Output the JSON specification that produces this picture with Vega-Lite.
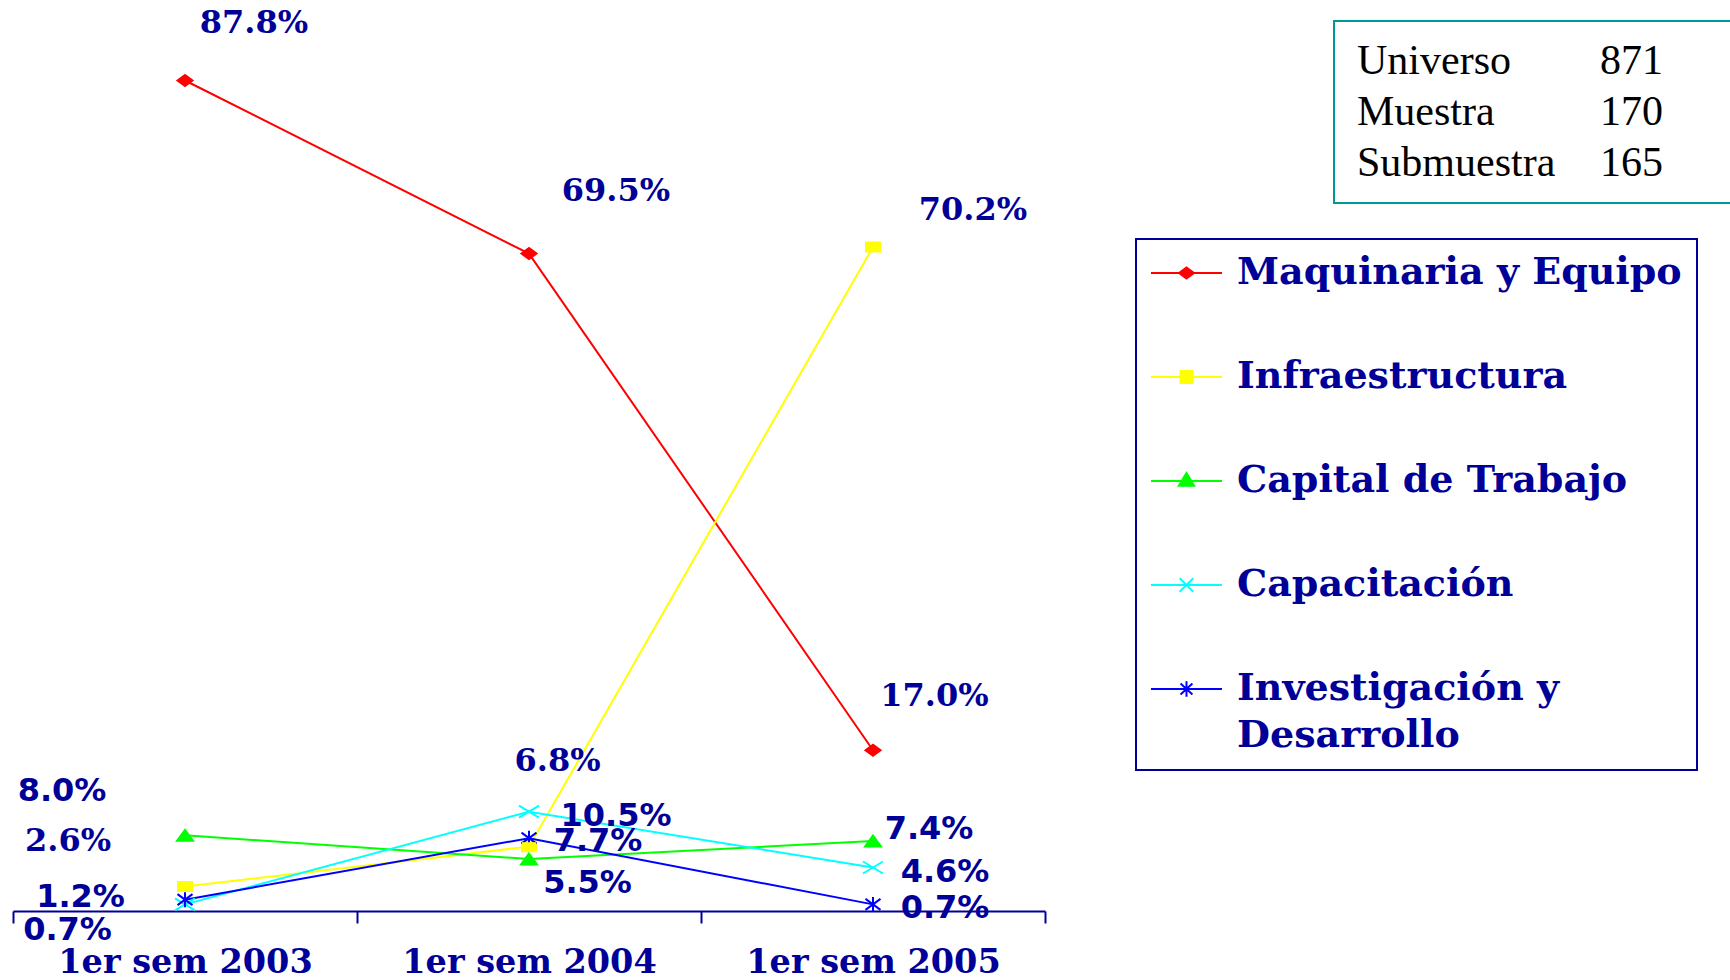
{
  "$schema": "https://vega.github.io/schema/vega-lite/v6.json",
  "width": 1032,
  "height": 911,
  "autosize": "none",
  "padding": {"left": 13, "top": 0, "right": 685, "bottom": 69},
  "background": "white",
  "config": {
    "view": {"stroke": null},
    "text": {"font": "DejaVu Sans", "fontSize": 32, "fontWeight": "bold", "color": "#000099", "align": "center", "baseline": "middle"},
    "axis": {"grid": false, "title": null},
    "legend": {"strokeWidth": 2}
  },
  "layer": [
    {
      "data": {
        "values": [
          {"periodo": "1er sem 2003", "serie": "Maquinaria y Equipo", "valor": 0.878},
          {"periodo": "1er sem 2003", "serie": "Infraestructura", "valor": 0.026},
          {"periodo": "1er sem 2003", "serie": "Capital de Trabajo", "valor": 0.080},
          {"periodo": "1er sem 2003", "serie": "Capacitación", "valor": 0.007},
          {"periodo": "1er sem 2003", "serie": "Investigación y Desarrollo", "valor": 0.012},
          {"periodo": "1er sem 2004", "serie": "Maquinaria y Equipo", "valor": 0.695},
          {"periodo": "1er sem 2004", "serie": "Infraestructura", "valor": 0.068},
          {"periodo": "1er sem 2004", "serie": "Capital de Trabajo", "valor": 0.055},
          {"periodo": "1er sem 2004", "serie": "Capacitación", "valor": 0.105},
          {"periodo": "1er sem 2004", "serie": "Investigación y Desarrollo", "valor": 0.077},
          {"periodo": "1er sem 2005", "serie": "Maquinaria y Equipo", "valor": 0.170},
          {"periodo": "1er sem 2005", "serie": "Infraestructura", "valor": 0.702},
          {"periodo": "1er sem 2005", "serie": "Capital de Trabajo", "valor": 0.074},
          {"periodo": "1er sem 2005", "serie": "Capacitación", "valor": 0.046},
          {"periodo": "1er sem 2005", "serie": "Investigación y Desarrollo", "valor": 0.007}
        ]
      },
      "encoding": {
        "x": {
          "field": "periodo", "type": "ordinal",
          "scale": {"type": "band", "paddingInner": 0, "paddingOuter": 0},
          "axis": {
            "domainColor": "#000099", "domainWidth": 2,
            "tickColor": "#000099", "tickWidth": 2, "tickSize": 12,
            "tickBand": "extent", "tickExtra": true,
            "labelFont": "DejaVu Serif", "labelFontWeight": "bold", "labelFontSize": 33.5,
            "labelColor": "#000099", "labelPadding": 23, "labelAngle": 0, "labelLimit": 500
          }
        },
        "y": {"field": "valor", "type": "quantitative", "scale": {"domain": [0, 0.9631], "nice": false}, "axis": null}
      },
      "layer": [
        {
          "mark": {"type": "line", "strokeWidth": 2},
          "encoding": {
            "color": {
              "field": "serie", "type": "nominal",
              "scale": {
                "domain": ["Maquinaria y Equipo", "Infraestructura", "Capital de Trabajo", "Capacitación", "Investigación y Desarrollo"],
                "range": ["#FF0000", "#FFFF00", "#00FF00", "#00FFFF", "#0000FF"]
              },
              "legend": {
                "orient": "none", "legendX": 1123, "legendY": 239,
                "title": null, "direction": "vertical",
                "padding": 15, "strokeColor": "#000099", "fillColor": "white",
                "symbolSize": 289, "symbolStrokeWidth": 2,
                "labelFont": "DejaVu Serif", "labelFontWeight": "bold", "labelFontSize": 38,
                "labelColor": "#000099", "labelOffset": 48, "labelLimit": 700,
                "rowPadding": 66,
                "labelExpr": "length(datum.label) > 20 ? [slice(datum.label, 0, lastindexof(datum.label, ' ')), slice(datum.label, lastindexof(datum.label, ' ') + 1)] : datum.label",
                "encode": {
                  "symbols": {
                    "update": {
                      "shape": {"signal": "['M-2.24,0H6.12M1.06,0L1.94,-0.65L2.82,0L1.94,0.65Z','M-2.24,0H6.12M1.24,-0.7H2.64V0.7H1.24Z','M-2.24,0H6.12M1.94,-0.95L2.84,0.55H1.04Z','M-2.24,0H6.12M1.14,-0.8L2.74,0.8M1.14,0.8L2.74,-0.8','M-2.24,0H6.12M1.24,-0.65L2.64,0.65M1.24,0.65L2.64,-0.65M1.94,-0.9V0.9'][indexof(domain('color'), datum.value)]"},
                      "fill": {"scale": "color", "field": "value"},
                      "stroke": {"scale": "color", "field": "value"},
                      "strokeWidth": {"value": 2},
                      "opacity": {"value": 1}
                    }
                  },
                  "labels": {"update": {"lineHeight": {"value": 47}}}
                }
              }
            }
          }
        },
        {
          "mark": {"type": "point", "filled": false, "size": 100, "strokeWidth": 2, "opacity": 1},
          "encoding": {
            "color": {"field": "serie", "type": "nominal"},
            "shape": {
              "field": "serie", "type": "nominal", "legend": null,
              "scale": {"range": ["M-2,-1.2L2,1.2M-2,1.2L2,-1.2", "M0,-1.1L1.6,1.1H-1.6Z", "M-1.4,-0.9H1.4V0.9H-1.4Z", "M-1.5,-1.1L1.5,1.1M-1.5,1.1L1.5,-1.1M0,-1.5V1.5", "M-1.5,0L0,-1.1L1.5,0L0,1.1Z"]}
            }
          }
        },
        {
          "mark": {"type": "point", "filled": true, "size": 100, "opacity": 1},
          "encoding": {
            "color": {"field": "serie", "type": "nominal"},
            "shape": {
              "field": "serie", "type": "nominal", "legend": null,
              "scale": {"range": ["M-2,-1.2L2,1.2M-2,1.2L2,-1.2", "M0,-1.1L1.6,1.1H-1.6Z", "M-1.4,-0.9H1.4V0.9H-1.4Z", "M-1.5,-1.1L1.5,1.1M-1.5,1.1L1.5,-1.1M0,-1.5V1.5", "M-1.5,0L0,-1.1L1.5,0L0,1.1Z"]}
            }
          }
        },
        {"transform": [{"filter": "datum.serie == 'Maquinaria y Equipo' && datum.periodo == '1er sem 2003'"}], "mark": {"type": "text", "font": "DejaVu Serif", "dx": 69, "dy": -57.5}, "encoding": {"text": {"field": "valor", "type": "quantitative", "format": ".1%"}}},
        {"transform": [{"filter": "datum.serie == 'Maquinaria y Equipo' && datum.periodo == '1er sem 2004'"}], "mark": {"type": "text", "font": "DejaVu Serif", "dx": 87, "dy": -63}, "encoding": {"text": {"field": "valor", "type": "quantitative", "format": ".1%"}}},
        {"transform": [{"filter": "datum.serie == 'Maquinaria y Equipo' && datum.periodo == '1er sem 2005'"}], "mark": {"type": "text", "font": "DejaVu Serif", "dx": 61.5, "dy": -54}, "encoding": {"text": {"field": "valor", "type": "quantitative", "format": ".1%"}}},
        {"transform": [{"filter": "datum.serie == 'Infraestructura' && datum.periodo == '1er sem 2003'"}], "mark": {"type": "text", "font": "DejaVu Serif", "dx": -117, "dy": -45}, "encoding": {"text": {"field": "valor", "type": "quantitative", "format": ".1%"}}},
        {"transform": [{"filter": "datum.serie == 'Infraestructura' && datum.periodo == '1er sem 2004'"}], "mark": {"type": "text", "font": "DejaVu Serif", "dx": 28.5, "dy": -85.5}, "encoding": {"text": {"field": "valor", "type": "quantitative", "format": ".1%"}}},
        {"transform": [{"filter": "datum.serie == 'Infraestructura' && datum.periodo == '1er sem 2005'"}], "mark": {"type": "text", "font": "DejaVu Serif", "dx": 100, "dy": -36.5}, "encoding": {"text": {"field": "valor", "type": "quantitative", "format": ".1%"}}},
        {"transform": [{"filter": "datum.serie == 'Capital de Trabajo' && datum.periodo == '1er sem 2003'"}], "mark": {"type": "text", "dx": -123, "dy": -44}, "encoding": {"text": {"field": "valor", "type": "quantitative", "format": ".1%"}}},
        {"transform": [{"filter": "datum.serie == 'Capital de Trabajo' && datum.periodo == '1er sem 2004'"}], "mark": {"type": "text", "dx": 58.5, "dy": 24.5}, "encoding": {"text": {"field": "valor", "type": "quantitative", "format": ".1%"}}},
        {"transform": [{"filter": "datum.serie == 'Capital de Trabajo' && datum.periodo == '1er sem 2005'"}], "mark": {"type": "text", "dx": 56, "dy": -12.5}, "encoding": {"text": {"field": "valor", "type": "quantitative", "format": ".1%"}}},
        {"transform": [{"filter": "datum.serie == 'Capacitación' && datum.periodo == '1er sem 2003'"}], "mark": {"type": "text", "dx": -117.5, "dy": 25.5}, "encoding": {"text": {"field": "valor", "type": "quantitative", "format": ".1%"}}},
        {"transform": [{"filter": "datum.serie == 'Capacitación' && datum.periodo == '1er sem 2004'"}], "mark": {"type": "text", "dx": 87, "dy": 4}, "encoding": {"text": {"field": "valor", "type": "quantitative", "format": ".1%"}}},
        {"transform": [{"filter": "datum.serie == 'Capacitación' && datum.periodo == '1er sem 2005'"}], "mark": {"type": "text", "dx": 72, "dy": 4.5}, "encoding": {"text": {"field": "valor", "type": "quantitative", "format": ".1%"}}},
        {"transform": [{"filter": "datum.serie == 'Investigación y Desarrollo' && datum.periodo == '1er sem 2003'"}], "mark": {"type": "text", "dx": -104.5, "dy": -2.5}, "encoding": {"text": {"field": "valor", "type": "quantitative", "format": ".1%"}}},
        {"transform": [{"filter": "datum.serie == 'Investigación y Desarrollo' && datum.periodo == '1er sem 2004'"}], "mark": {"type": "text", "dx": 69, "dy": 2.5}, "encoding": {"text": {"field": "valor", "type": "quantitative", "format": ".1%"}}},
        {"transform": [{"filter": "datum.serie == 'Investigación y Desarrollo' && datum.periodo == '1er sem 2005'"}], "mark": {"type": "text", "dx": 72, "dy": 4}, "encoding": {"text": {"field": "valor", "type": "quantitative", "format": ".1%"}}}
      ]
    },
    {
      "data": {
        "values": [
          {"concepto": "Universo", "n": 871},
          {"concepto": "Muestra", "n": 170},
          {"concepto": "Submuestra", "n": 165}
        ]
      },
      "transform": [{"fold": ["concepto", "n"], "as": ["clave", "texto"]}],
      "mark": {"type": "point", "opacity": 0},
      "encoding": {
        "strokeDash": {
          "field": "texto", "type": "nominal", "sort": null,
          "legend": {
            "orient": "none", "legendX": 1321, "legendY": 21,
            "title": null, "direction": "horizontal", "columns": 2,
            "padding": 19, "strokeColor": "#009999", "fillColor": "white",
            "symbolSize": 0, "symbolStrokeWidth": 0, "symbolOpacity": 0,
            "labelFont": "Liberation Serif", "labelFontWeight": "normal", "labelFontSize": 42,
            "labelColor": "black", "labelOffset": -38, "labelLimit": 700,
            "rowPadding": 9, "columnPadding": 40, "gridAlign": "each",
            "labelExpr": "isNaN(toNumber(datum.label)) ? datum.label : datum.label + '\u00a0\u00a0\u00a0\u00a0\u00a0\u00a0\u00a0\u200b'"
          }
        }
      }
    }
  ]
}
